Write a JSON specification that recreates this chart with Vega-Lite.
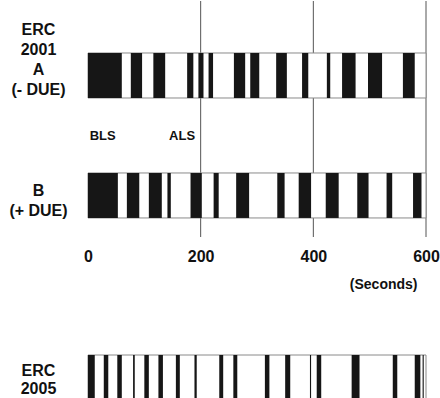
{
  "$schema": "https://vega.github.io/schema/vega-lite/v6.json",
  "padding": {"left": 8, "top": 0, "right": 0, "bottom": 0},
  "background": "white",
  "config": {"view": {"stroke": null}, "font": "Liberation Sans"},
  "spacing": 63,
  "datasets": {
    "segments": [
      {"row": "A", "start": 0, "end": 60}, {"row": "A", "start": 76, "end": 96}, {"row": "A", "start": 116, "end": 137},
      {"row": "A", "start": 176, "end": 187}, {"row": "A", "start": 196, "end": 205}, {"row": "A", "start": 214, "end": 222},
      {"row": "A", "start": 259, "end": 279}, {"row": "A", "start": 288, "end": 304}, {"row": "A", "start": 334, "end": 353},
      {"row": "A", "start": 380, "end": 391}, {"row": "A", "start": 424, "end": 430}, {"row": "A", "start": 451, "end": 475},
      {"row": "A", "start": 497, "end": 522}, {"row": "A", "start": 559, "end": 580},
      {"row": "B", "start": 0, "end": 53}, {"row": "B", "start": 69, "end": 91}, {"row": "B", "start": 108, "end": 131},
      {"row": "B", "start": 141, "end": 147}, {"row": "B", "start": 182, "end": 202}, {"row": "B", "start": 223, "end": 232},
      {"row": "B", "start": 263, "end": 286}, {"row": "B", "start": 336, "end": 349}, {"row": "B", "start": 374, "end": 396},
      {"row": "B", "start": 422, "end": 445}, {"row": "B", "start": 478, "end": 498}, {"row": "B", "start": 530, "end": 540},
      {"row": "B", "start": 577, "end": 592},
      {"row": "ERC 2005", "start": 0, "end": 12}, {"row": "ERC 2005", "start": 28, "end": 36}, {"row": "ERC 2005", "start": 52, "end": 60},
      {"row": "ERC 2005", "start": 80, "end": 83}, {"row": "ERC 2005", "start": 100, "end": 108}, {"row": "ERC 2005", "start": 125, "end": 133},
      {"row": "ERC 2005", "start": 156, "end": 163}, {"row": "ERC 2005", "start": 189, "end": 193}, {"row": "ERC 2005", "start": 233, "end": 240},
      {"row": "ERC 2005", "start": 258, "end": 265}, {"row": "ERC 2005", "start": 314, "end": 322}, {"row": "ERC 2005", "start": 350, "end": 359},
      {"row": "ERC 2005", "start": 394, "end": 396}, {"row": "ERC 2005", "start": 406, "end": 414}, {"row": "ERC 2005", "start": 468, "end": 482},
      {"row": "ERC 2005", "start": 541, "end": 549}, {"row": "ERC 2005", "start": 580, "end": 590}, {"row": "ERC 2005", "start": 594, "end": 596}
    ],
    "rows": [{"row": "A"}, {"row": "B"}, {"row": "ERC 2005"}],
    "marks": [{"t": 200}, {"t": 400}, {"t": 600}],
    "notes": [{"label": "BLS", "t": 3}, {"label": "ALS", "t": 144}]
  },
  "vconcat": [
    {
      "width": 338,
      "height": 236,
      "layer": [
        {
          "data": {"name": "marks"},
          "mark": {"type": "rule", "color": "#555555", "strokeWidth": 1},
          "encoding": {
            "x": {
              "field": "t", "type": "quantitative",
              "scale": {"domain": [0, 600], "nice": false},
              "axis": {
                "values": [0, 200, 400, 600], "domain": false, "ticks": false, "grid": false,
                "labelFontSize": 16, "labelFontWeight": "bold", "labelColor": "#111111",
                "labelPadding": 11, "labelFlush": false, "labelOverlap": false, "labelBound": false,
                "title": "(Seconds)", "titleFontSize": 14, "titleFontWeight": "bold", "titleColor": "#111111",
                "titleAnchor": "end", "titleAlign": "right", "titleX": 329, "titleY": 47, "titleBaseline": "middle"
              }
            }
          }
        },
        {
          "data": {"name": "rows"},
          "transform": [{"filter": "datum.row !== 'ERC 2005'"}],
          "mark": {"type": "rect", "fill": "white", "stroke": "#8a8a8a", "strokeWidth": 1},
          "encoding": {
            "x": {"datum": 0, "type": "quantitative"},
            "x2": {"datum": 600},
            "y": {
              "field": "row", "type": "nominal",
              "scale": {"domain": ["A", "B"], "paddingInner": 0.625, "paddingOuter": 0.296, "align": 0.732},
              "axis": {
                "title": null, "domain": false, "ticks": false, "grid": false,
                "labelAlign": "center", "labelBaseline": "middle", "labelPadding": 50,
                "labelFontSize": 16, "labelFontWeight": "bold", "labelColor": "#111111", "labelLineHeight": 20,
                "labelExpr": "datum.value === 'A' ? ['ERC', '2001', 'A', '(- DUE)'] : ['B', '(+ DUE)']",
                "labelOffset": {"condition": {"test": "datum.value === 'A'", "value": -45}, "value": -4},
                "labelBound": false, "labelOverlap": false
              }
            }
          }
        },
        {
          "data": {"name": "segments"},
          "transform": [{"filter": "datum.row !== 'ERC 2005'"}],
          "mark": {"type": "rect", "fill": "#161616"},
          "encoding": {
            "x": {"field": "start", "type": "quantitative"},
            "x2": {"field": "end"},
            "y": {"field": "row", "type": "nominal"}
          }
        },
        {
          "data": {"name": "notes"},
          "mark": {"type": "text", "align": "left", "baseline": "middle", "dy": 61, "fontSize": 13, "fontWeight": "bold", "color": "#111111"},
          "encoding": {
            "x": {"field": "t", "type": "quantitative"},
            "y": {"datum": "A", "type": "nominal"},
            "text": {"field": "label"}
          }
        }
      ]
    },
    {
      "width": 338,
      "height": 50,
      "layer": [
        {
          "data": {"name": "rows"},
          "transform": [{"filter": "datum.row === 'ERC 2005'"}],
          "mark": {"type": "rect", "fill": "white", "stroke": "#8a8a8a", "strokeWidth": 1},
          "encoding": {
            "x": {"datum": 0, "type": "quantitative", "scale": {"domain": [0, 600], "nice": false}, "axis": null},
            "x2": {"datum": 600},
            "y": {
              "field": "row", "type": "nominal",
              "scale": {"domain": ["ERC 2005"], "paddingInner": 0, "paddingOuter": 0},
              "axis": {
                "title": null, "domain": false, "ticks": false, "grid": false,
                "labelAlign": "center", "labelBaseline": "middle", "labelPadding": 50,
                "labelFontSize": 16, "labelFontWeight": "bold", "labelColor": "#111111", "labelLineHeight": 18,
                "labelExpr": "['ERC', '2005']", "labelOffset": -9,
                "labelBound": false, "labelOverlap": false
              }
            }
          }
        },
        {
          "data": {"name": "segments"},
          "transform": [{"filter": "datum.row === 'ERC 2005'"}],
          "mark": {"type": "rect", "fill": "#161616"},
          "encoding": {
            "x": {"field": "start", "type": "quantitative"},
            "x2": {"field": "end"},
            "y": {"field": "row", "type": "nominal"}
          }
        }
      ]
    }
  ]
}
